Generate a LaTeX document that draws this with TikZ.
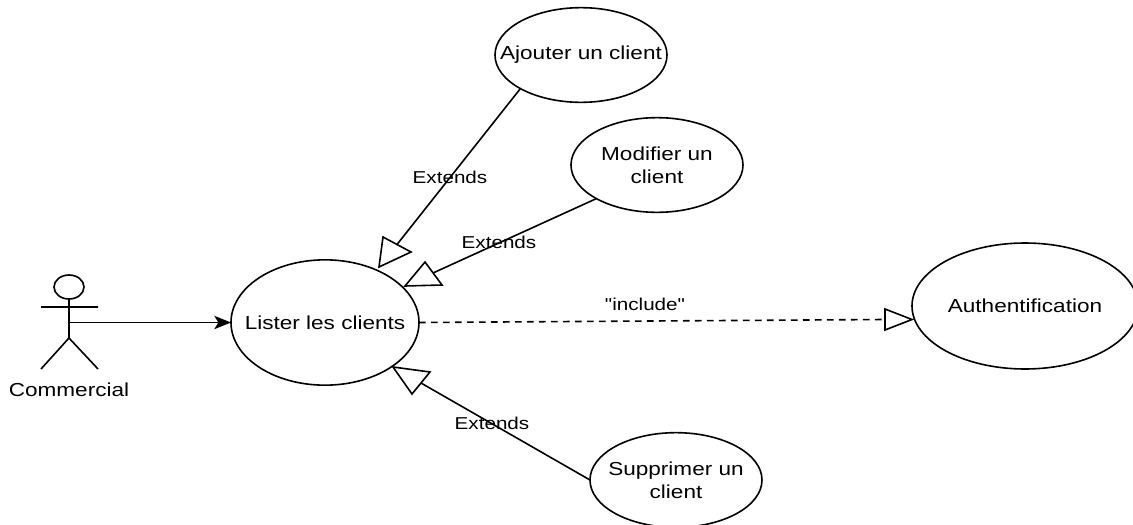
\documentclass[tikz,border=0pt]{standalone}
\usepackage{fontspec}
\usetikzlibrary{shapes.geometric,arrows.meta}
\setmainfont[FakeStretch=1.2]{Liberation Sans}
\newfontfamily\plainquotes[FakeStretch=1.2]{Liberation Sans}
\begin{document}
\begin{tikzpicture}[x=0.75pt,y=-0.75pt,
  usecase/.style={ellipse,draw=black,line width=1.2pt,align=center,inner xsep=-50pt,inner ysep=-12pt,outer sep=0pt,font=\fontsize{14.1pt}{17.25pt}\selectfont},
  lbl/.style={inner sep=0pt,font=\fontsize{12.9pt}{15pt}\selectfont},
  conn/.style={draw=black,line width=1.2pt},
  tri/.style={draw=black,line width=1.2pt,fill=white,line join=miter}]
\useasboundingbox (0,0) rectangle (1133,525);
\clip (0,0) rectangle (1133,525);
% use cases
\node[usecase,minimum width=141pt,minimum height=94pt] (lister) at (325,322.5) {Lister les clients};
\node[usecase,minimum width=129pt,minimum height=71pt] (ajouter) at (581,55) {Ajouter un client};
\node[usecase,minimum width=129pt,minimum height=71pt] (modifier) at (657,165) {Modifier un\\client};
\node[usecase,minimum width=129pt,minimum height=71pt] (supprimer) at (676,480) {Supprimer un\\client};
\node[usecase,minimum width=169.5pt,minimum height=94.5pt] (auth) at (1025,306) {Authentification};
% actor
\draw[conn] (69,287) ellipse (15 and 12);
\draw[conn] (69,299) -- (69,338) (41,307) -- (98,307) (41,369) -- (69,338) -- (98,369);
\coordinate (actorhand) at (70,322.5);
\node[font=\fontsize{14.1pt}{17pt}\selectfont,inner sep=0pt] (commercial) at (69,390) {Commercial};
\draw[conn,-{Stealth[length=12.5pt,width=10pt,inset=3pt]}] (actorhand) -- (lister.west);
% arrow bases and tips
\coordinate (ab1) at (383,237); \coordinate (ab2) at (411,252); \coordinate (at) at (379,267); \coordinate (am) at (397,244.5);
\coordinate (mb1) at (425,262); \coordinate (mb2) at (442,285); \coordinate (mt) at (405,286); \coordinate (mm) at (433,273);
\coordinate (sb1) at (430,372); \coordinate (sb2) at (412,394); \coordinate (st) at (393,367); \coordinate (sm) at (421,383);
\coordinate (ib1) at (885,309); \coordinate (ib2) at (885,330); \coordinate (it) at (912,319.5); \coordinate (im) at (885,319.5);
% connectors
\draw[conn] (ajouter.209) -- (am);
\draw[tri] (ab1) -- (ab2) -- (at) -- cycle;
\draw[conn] (modifier.209) -- (mm);
\draw[tri] (mb1) -- (mb2) -- (mt) -- cycle;
\draw[conn] (supprimer.west) -- (sm);
\draw[tri] (sb1) -- (sb2) -- (st) -- cycle;
\draw[conn,dash pattern=on 5pt off 4pt] (lister.east) -- (im);
\draw[tri] (ib1) -- (ib2) -- (it) -- cycle;
% labels
\node[lbl] (ext1) at (450,177) {Extends};
\node[lbl] (ext2) at (499,242) {Extends};
\node[lbl] (ext3) at (492,423) {Extends};
\node[lbl,font=\plainquotes\fontsize{12.9pt}{15pt}\selectfont] (incl) at (645,304) {"include"};
\end{tikzpicture}
\end{document}
